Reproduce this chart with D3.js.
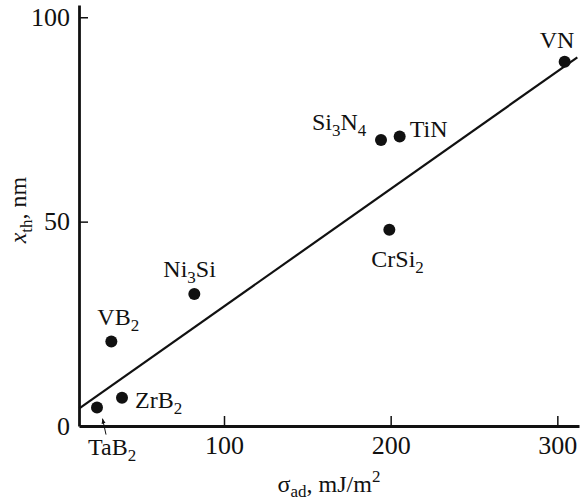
<!DOCTYPE html>
<html lang="en">
<head>
    <meta charset="UTF-8">
    <title>x_th vs sigma_ad</title>
    <script src="https://d3js.org/d3.v7.min.js"></script>
    <style>
        body { margin: 0; background: #fff; }
        svg { display: block; }
        svg text { font-family: "Liberation Serif", Tinos, "Times New Roman", Times, "DejaVu Serif", serif; fill: #111; }
        .tick text { font-size: 26px; }
        .lbl { font-size: 24px; }
    </style>
</head>
<body>
    <script>
        // materials
        const names = ["TaB_2", "ZrB_2", "VB_2", "Ni_3Si", "Si_3N_4", "TiN", "CrSi_2", "VN"];
        const sigma = [23.8, 38.8, 32.4, 82.2, 194.2, 205.4, 199.2, 304.4];
        const xth = [4.5, 6.9, 20.7, 32.3, 70.0, 70.8, 48.0, 89.1];

        // straight line drawn through the points
        const fitX = [13.2, 312];
        const fitY = [4.3, 90.2];

        const xTicks = [100, 200, 300];
        const yTicks = [0, 50, 100];

        const width = 580;
        const height = 502;
        const serif = "'Liberation Serif', Tinos, 'Times New Roman', Times, 'DejaVu Serif', serif";

        const svg = d3.select("body")
            .append("svg")
            .attr("width", width)
            .attr("height", height)
            .attr("font-family", serif);

        const x = d3.scaleLinear().domain([13, 313]).range([79, 579]);
        const y = d3.scaleLinear().domain([0, 103]).range([426, 5]);

        // label offsets from each dot (px)
        const offs = {
            "TaB_2": [-9, 47], "ZrB_2": [13, 10], "VB_2": [-14, -16],
            "Ni_3Si": [-31, -17], "Si_3N_4": [-69, -10], "TiN": [10, 0],
            "CrSi_2": [-18, 37], "VN": [-25, -14]
        };

        // axes
        const xAxis = svg.append("g")
            .attr("transform", `translate(0,${y(0)})`)
            .call(d3.axisBottom(x).tickValues(xTicks).tickSizeInner(-10).tickSizeOuter(0).tickPadding(10));
        const yAxis = svg.append("g")
            .attr("transform", `translate(${x(13)},0)`)
            .call(d3.axisLeft(y).tickValues(yTicks).tickSizeInner(-9).tickSizeOuter(0).tickPadding(9));

        [xAxis, yAxis].forEach(a => {
            a.attr("font-family", serif).attr("font-size", 26);
            a.select(".domain").attr("stroke", "#111").attr("stroke-width", 2.8);
            a.selectAll(".tick line").attr("stroke", "#111").attr("stroke-width", 1.5);
            a.selectAll(".tick text").attr("fill", "#111");
        });
        svg.selectAll(".tick").filter(d => d === 0).select("line").remove();

        // fit line
        const line = d3.line().x(d => x(d[0])).y(d => y(d[1]));
        svg.append("path")
            .datum(d3.zip(fitX, fitY))
            .attr("d", line)
            .attr("fill", "none")
            .attr("stroke", "#111")
            .attr("stroke-width", 2.2);

        const pts = names.map((n, i) => ({ name: n, sx: sigma[i], v: xth[i] }));

        svg.selectAll("circle.pt")
            .data(pts)
            .join("circle")
            .attr("class", "pt")
            .attr("cx", d => x(d.sx))
            .attr("cy", d => y(d.v))
            .attr("r", 6)
            .attr("fill", "#111");

        // chemical formula with subscripts
        function formula(sel, str) {
            const parts = str.split(/(_\d)/).filter(s => s.length);
            parts.forEach(p => {
                if (p[0] === "_") {
                    sel.append("tspan").attr("font-size", "17px").attr("dy", 6).text(p.slice(1));
                } else {
                    const t = sel.append("tspan").text(p);
                    if (sel.selectAll("tspan").size() > 1) t.attr("dy", -6);
                }
            });
        }

        svg.selectAll("text.lbl")
            .data(pts)
            .join("text")
            .attr("class", "lbl")
            .attr("x", d => x(d.sx) + offs[d.name][0])
            .attr("y", d => y(d.v) + offs[d.name][1])
            .each(function (d) { formula(d3.select(this), d.name); });

        // little arrow from TaB2 label to its dot
        const ta = pts[0];
        svg.append("defs").append("marker")
            .attr("id", "ah")
            .attr("viewBox", "0 0 10 10")
            .attr("refX", 10).attr("refY", 5)
            .attr("markerWidth", 5).attr("markerHeight", 5)
            .attr("orient", "auto")
            .append("path").attr("d", "M0,1L10,5L0,9z").attr("fill", "#111");
        svg.append("line")
            .attr("x1", x(ta.sx) + 9).attr("y1", y(ta.v) + 27)
            .attr("x2", x(ta.sx) + 5.5).attr("y2", y(ta.v) + 11)
            .attr("stroke", "#111").attr("stroke-width", 1)
            .attr("marker-end", "url(#ah)");

        // axis titles
        const yt = svg.append("text")
            .attr("class", "lbl")
            .attr("transform", "translate(26,210) rotate(-90)")
            .attr("text-anchor", "middle");
        yt.append("tspan").attr("font-style", "italic").text("x");
        yt.append("tspan").attr("font-size", "17px").attr("dy", 6).text("th");
        yt.append("tspan").attr("dy", -6).text(", nm");

        const xt = svg.append("text")
            .attr("class", "lbl")
            .attr("x", 329).attr("y", 492)
            .attr("text-anchor", "middle");
        xt.append("tspan").text("σ");
        xt.append("tspan").attr("font-size", "17px").attr("dy", 5).text("ad");
        xt.append("tspan").attr("dy", -5).text(", mJ/m");
        xt.append("tspan").attr("font-size", "17px").attr("dy", -10).text("2");
    </script>
</body>
</html>
